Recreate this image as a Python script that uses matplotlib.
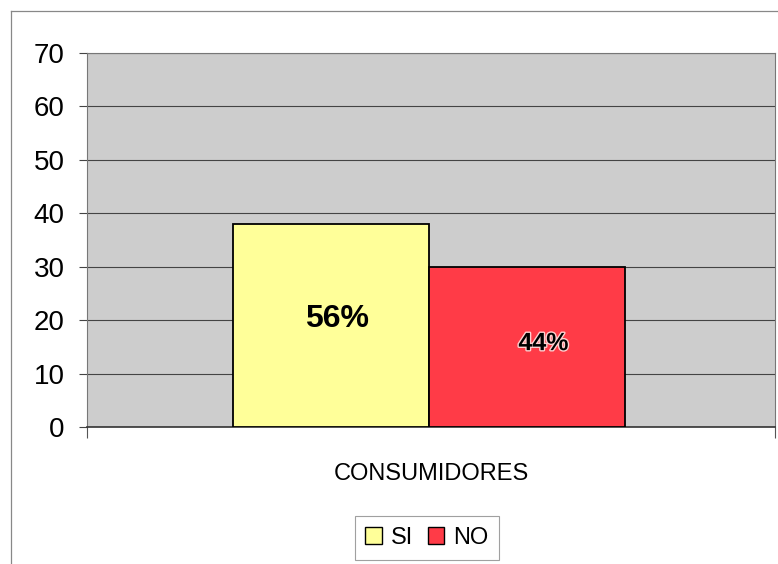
import matplotlib
matplotlib.use("Agg")
import matplotlib.pyplot as plt
from matplotlib.lines import Line2D
from matplotlib.patches import Patch
import matplotlib.patheffects as pe

plt.rcParams['font.family'] = ['Liberation Sans', 'DejaVu Sans']

category = "CONSUMIDORES"
series_names = ["SI", "NO"]
values = [38, 30]
pct_labels = ["56%", "44%"]
colors = ["#FFFF99", "#FF3B47"]
yticks = [0, 10, 20, 30, 40, 50, 60, 70]

W, H = 778, 564
fig = plt.figure(figsize=(W / 100, H / 100), dpi=100)
fig.patch.set_facecolor("white")

ax = fig.add_axes([87 / W, 1 - 427 / H, (775 - 87) / W, (427 - 53) / H])
ax.set_facecolor("#cdcdcd")
ax.set_xlim(-0.5, 0.5)
ax.set_ylim(0, 70)

bw = 196 / 688
offsets = [-bw / 2 - 0.003, bw / 2 - 0.003]
for off, v, c, name in zip(offsets, values, colors, series_names):
    ax.bar(off, v, width=bw, color=c, edgecolor="black", linewidth=1.3, zorder=3, label=name)

ax.text(offsets[0] + 0.009, values[0] / 2 + 1.3, pct_labels[0], ha="center", va="center",
        fontsize=23, fontweight="bold", zorder=4)
ax.text(offsets[1] + 0.024, values[1] / 2 + 0.7, pct_labels[1], ha="center", va="center",
        fontsize=18, fontweight="bold", zorder=4,
        path_effects=[pe.withStroke(linewidth=2, foreground="#ffd0d0")])

ax.set_yticks(yticks)
ax.set_yticklabels([str(t) for t in yticks], fontsize=20)
ax.yaxis.grid(True, color="#444444", linewidth=0.8, zorder=1)
ax.tick_params(axis="y", length=6, width=0.8, color="#444444", pad=10)

ax.set_xticks([0])
ax.set_xticklabels([category], fontsize=17)
ax.tick_params(axis="x", which="major", length=0, pad=26)
ax.set_xticks([-0.5, 0.5], minor=True)
ax.tick_params(axis="x", which="minor", length=8, width=0.8, color="#555555")

for s in ax.spines.values():
    s.set_color("#777777")
    s.set_linewidth(0.8)
ax.spines["bottom"].set_color("#333333")
ax.spines["bottom"].set_linewidth(1.2)

handles = [Patch(facecolor=c, edgecolor="black", linewidth=1.0) for c in colors]
leg = fig.legend(handles, series_names, loc="center", bbox_to_anchor=(427 / W, 1 - 538 / H),
                 ncol=2, fontsize=17, frameon=True, fancybox=False, handlelength=0.7,
                 handleheight=0.7, handletextpad=0.4, columnspacing=0.6, borderpad=0.45,
                 borderaxespad=0)
leg.get_frame().set_edgecolor("#888888")
leg.get_frame().set_linewidth(0.8)

fig.add_artist(Line2D([11 / W, 11 / W], [0, 1 - 11 / H], transform=fig.transFigure,
                      color="#888888", linewidth=0.9))
fig.add_artist(Line2D([11 / W, 1], [1 - 11 / H, 1 - 11 / H], transform=fig.transFigure,
                      color="#888888", linewidth=0.9))

fig.savefig("out.png", dpi=100)
